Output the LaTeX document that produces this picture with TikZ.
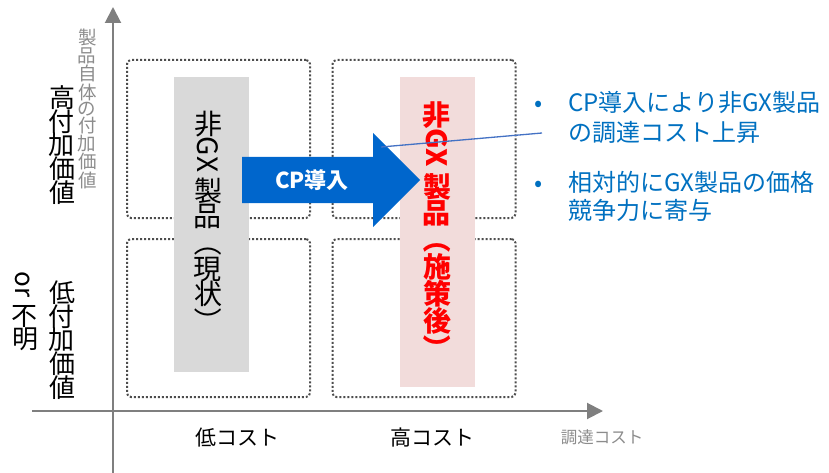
\documentclass[tikz,border=0pt]{standalone}
\usepackage{fontspec}
\setmainfont{Noto Sans CJK JP}
\usetikzlibrary{arrows.meta}
\definecolor{axisgray}{HTML}{7F7F7F}
\definecolor{labgray}{HTML}{8C8C8C}
\definecolor{boxgray}{HTML}{4D4D4D}
\definecolor{curfill}{HTML}{D9D9D9}
\definecolor{pinkfill}{HTML}{F2DCDB}
\definecolor{cpblue}{HTML}{0066CC}
\definecolor{txtblue}{HTML}{0070C0}
\definecolor{leadblue}{HTML}{4472C4}
\definecolor{gxred}{HTML}{FF0000}
\newcommand{\uprt}[1]{\rotatebox[origin=c]{90}{#1}}
\newcommand{\uprs}[1]{\rotatebox[origin=c]{90}{#1}\kern1.3pt}
\begin{document}
\begin{tikzpicture}[x=1pt,y=-1pt,
  axis/.style={draw=axisgray, line width=2pt, -{Triangle[length=16pt,width=16pt]}},
  qbox/.style={draw=boxgray, line width=2pt, dash pattern=on 2pt off 2pt, rounded corners=4pt, minimum width=183pt, minimum height=158pt, inner sep=0pt},
  band/.style={minimum width=75pt, inner sep=0pt, draw=none},
  vtext/.style={rotate=-90, inner sep=0pt},
  bul/.style={anchor=base west, inner sep=0pt, text=txtblue, font=\fontsize{24}{30}\selectfont},
  leader/.style={draw=leadblue, line width=1.3pt}
]
\path[use as bounding box] (0,0) rectangle (829,473);

% axes
\coordinate (ybot) at (113,473);
\coordinate (ytip) at (113,7);
\coordinate (xbeg) at (32,411);
\coordinate (xtip) at (603,411);
\draw[axis] (ybot) -- (ytip);
\draw[axis] (xbeg) -- (xtip);

% quadrant boxes
\node[qbox] (q1) at (218.5,139) {};
\node[qbox] (q2) at (424,139) {};
\node[qbox] (q3) at (218.5,318) {};
\node[qbox] (q4) at (424,318) {};

% bands
\node[band, fill=curfill, minimum height=295pt] (cur) at (211.5,224.5) {};
\node[band, fill=pinkfill, minimum height=310pt] (aft) at (437.5,232) {};

% CP arrow
\fill[cpblue] (242,157) -- (373,157) -- (373,133) -- (420,180) -- (373,227) -- (373,203) -- (242,203) -- cycle;
\node[text=white, font=\fontsize{22}{22}\selectfont\bfseries, inner sep=0pt] (cp) at (312,180) {CP導入};

% vertical texts in bands
\node[vtext, font=\fontsize{28}{28}\selectfont] (curtxt) at (208,223)
  {\uprt{非}GX \uprt{製}\uprt{品}（\uprt{現}\uprt{状}）};
\node[vtext, text=gxred, font=\fontsize{28}{28}\selectfont\bfseries] (afttxt) at (437,232)
  {\uprt{非}GX \uprt{製}\uprt{品}（\uprt{施}\uprt{策}\uprt{後}）};

% leader line
\coordinate (ls) at (381,147);
\coordinate (le) at (542,133);
\draw[leader] (ls) -- (le);

% bullets
\node[bul] (b1) at (534,112) {•};
\node[bul] (t1) at (568,112) {CP導入により非GX製品};
\node[bul] (t2) at (568,142) {の調達コスト上昇};
\node[bul] (b2) at (534,191) {•};
\node[bul] (t3) at (568,191) {相対的にGX製品の価格};
\node[bul] (t4) at (568,219) {競争力に寄与};

% y labels
\node[vtext, text=labgray, font=\fontsize{18.5}{18.5}\selectfont] (ylab) at (87,109)
  {\uprs{製}\uprs{品}\uprs{自}\uprs{体}\uprs{の}\uprs{付}\uprs{加}\uprs{価}\uprt{値}};
\node[vtext, font=\fontsize{26}{26}\selectfont] (hi) at (62,145)
  {\uprt{高}\uprt{付}\uprt{加}\uprt{価}\uprt{値}};
\node[vtext, font=\fontsize{26}{26}\selectfont] (lo) at (62,340)
  {\uprt{低}\uprt{付}\uprt{加}\uprt{価}\uprt{値}};
\node[vtext, font=\fontsize{26}{26}\selectfont] (unk) at (25,311)
  {or\hspace{8pt}\uprt{不}\uprt{明}};

% x labels
\node[inner sep=0pt, font=\fontsize{21}{21}\selectfont] (lc) at (237,438) {低コスト};
\node[inner sep=0pt, font=\fontsize{21}{21}\selectfont] (hc) at (432,438) {高コスト};
\node[inner sep=0pt, text=labgray, font=\fontsize{16.5}{16.5}\selectfont] (xlab) at (602,437) {調達コスト};
\end{tikzpicture}
\end{document}
